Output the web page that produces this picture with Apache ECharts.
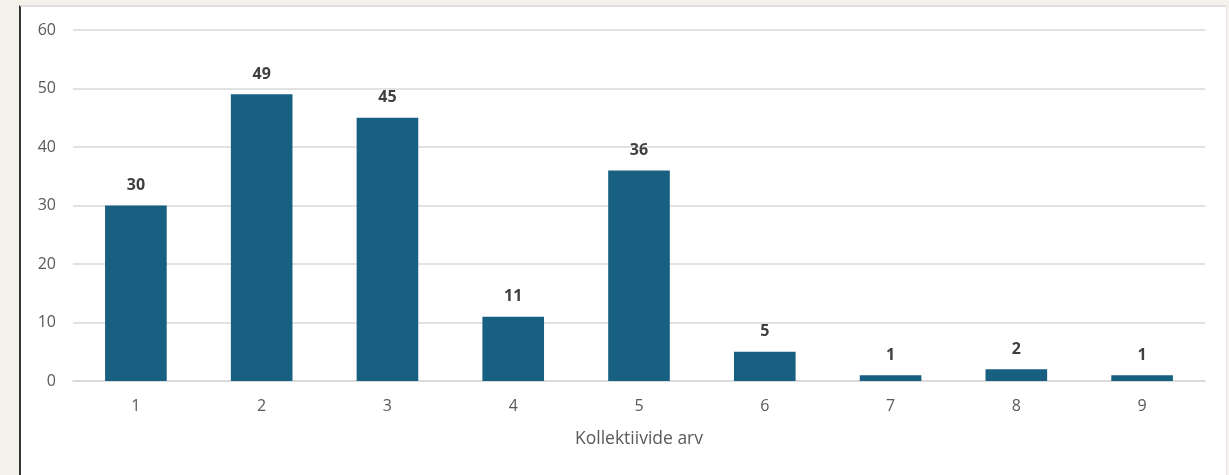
<!DOCTYPE html>
<html><head><meta charset="utf-8">
<script src="https://cdn.jsdelivr.net/npm/echarts@6/dist/echarts.min.js"></script>
<style>
html,body{margin:0;padding:0;width:1229px;height:475px;background:#f4f0ea;overflow:hidden;}
#panel{position:absolute;left:19px;top:5px;width:1208px;height:470px;background:#fff;border-left:2px solid #333;border-top:2px solid #dedede;border-right:1px solid #e6e6e6;box-sizing:border-box;}
#chart{position:absolute;left:0;top:0;width:1229px;height:475px;}
</style></head>
<body>
<div id="panel"></div>
<div id="chart"></div>
<script>
const categories = ['1','2','3','4','5','6','7','8','9'];
const values = [30, 49, 45, 11, 36, 5, 1, 2, 1];
const axisName = 'Kollektiivide arv';
const chart = echarts.init(document.getElementById('chart'));
const font = '"Open Sans", "Noto Sans", sans-serif';
chart.setOption({
  backgroundColor: 'transparent',
  animation: false,
  grid: {left: 73, right: 24, top: 30, bottom: 94},
  xAxis: {
    type: 'category', data: categories,
    name: axisName, nameLocation: 'middle', nameGap: 49,
    nameTextStyle: {color: '#595959', fontSize: 17.5, fontFamily: font},
    axisLine: {lineStyle: {color: '#d9d9d9', width: 1.5}},
    axisTick: {show: false},
    axisLabel: {color: '#595959', fontSize: 16, margin: 17, fontFamily: font},
  },
  yAxis: {
    type: 'value', min: 0, max: 60, interval: 10,
    axisLine: {show: false}, axisTick: {show: false},
    axisLabel: {color: '#595959', fontSize: 16, margin: 17, fontFamily: font},
    splitLine: {lineStyle: {color: '#d9d9d9', width: 1.5}}
  },
  series: [{
    type: 'bar', data: values, barWidth: '49%',
    itemStyle: {color: '#176082'},
    label: {show: true, position: 'top', distance: 12, color: '#404040', fontSize: 16, fontWeight: 'bold', fontFamily: font}
  }]
});
</script>
</body></html>
